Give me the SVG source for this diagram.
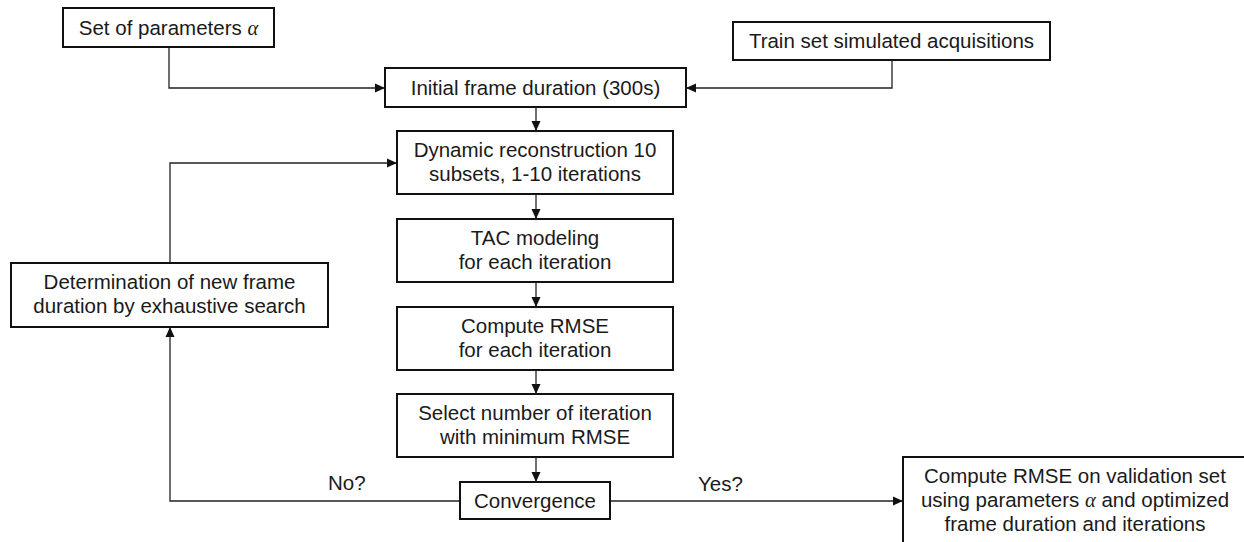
<svg xmlns="http://www.w3.org/2000/svg" width="1244" height="542" viewBox="0 0 1244 542">
<style>
.box{fill:#fff;stroke:#111;stroke-width:2}
.t{font-family:"Liberation Sans",Arial,sans-serif;font-size:20.5px;fill:#1a1a1a;text-anchor:middle}
.lbl{font-family:"Liberation Sans",Arial,sans-serif;font-size:20.5px;fill:#1a1a1a}
.a{font-family:"Liberation Serif","DejaVu Serif",serif;font-style:italic}
.c{fill:none;stroke:#222;stroke-width:1.3}
</style>
<defs>
<marker id="ah" viewBox="0 0 10 10" refX="10" refY="5" markerWidth="10" markerHeight="10" markerUnits="userSpaceOnUse" orient="auto">
<path d="M0,0.5 L10,5 L0,9.5 Z" fill="#111"/>
</marker>
</defs>
<g id="connectors">
<path class="c" d="M169,47 V88 H385" marker-end="url(#ah)"/>
<path class="c" d="M892,60 V88 H686" marker-end="url(#ah)"/>
<path class="c" d="M536,107 V131" marker-end="url(#ah)"/>
<path class="c" d="M536,194 V219" marker-end="url(#ah)"/>
<path class="c" d="M536,282 V307" marker-end="url(#ah)"/>
<path class="c" d="M536,370 V394" marker-end="url(#ah)"/>
<path class="c" d="M536,457 V482" marker-end="url(#ah)"/>
<path class="c" d="M460,501 H170 V327" marker-end="url(#ah)"/>
<path class="c" d="M170,263 V163 H397" marker-end="url(#ah)"/>
<path class="c" d="M610,501 H903" marker-end="url(#ah)"/>
<text class="lbl" x="328" y="490">No?</text>
<text class="lbl" x="698" y="491">Yes?</text>
</g>
<g id="params">
<rect class="box" x="63" y="8" width="211" height="39"/>
<text class="t" x="168.5" y="35">Set of parameters <tspan class="a">α</tspan></text>
</g>
<g id="trainset">
<rect class="box" x="733" y="22" width="317" height="38"/>
<text class="t" x="891.5" y="48">Train set simulated acquisitions</text>
</g>
<g id="initial">
<rect class="box" x="385" y="68" width="301" height="39"/>
<text class="t" x="535.5" y="95">Initial frame duration (300s)</text>
</g>
<g id="dynamic">
<rect class="box" x="397" y="131" width="276" height="63"/>
<text class="t" x="535" y="157">Dynamic reconstruction 10</text>
<text class="t" x="535" y="181">subsets, 1-10 iterations</text>
</g>
<g id="tac">
<rect class="box" x="397" y="219" width="276" height="63"/>
<text class="t" x="535" y="245">TAC modeling</text>
<text class="t" x="535" y="269">for each iteration</text>
</g>
<g id="rmse">
<rect class="box" x="397" y="307" width="276" height="63"/>
<text class="t" x="535" y="333">Compute RMSE</text>
<text class="t" x="535" y="357">for each iteration</text>
</g>
<g id="select">
<rect class="box" x="397" y="394" width="276" height="63"/>
<text class="t" x="535" y="420">Select number of iteration</text>
<text class="t" x="535" y="444">with minimum RMSE</text>
</g>
<g id="convergence">
<rect class="box" x="460" y="482" width="150" height="37"/>
<text class="t" x="535" y="508">Convergence</text>
</g>
<g id="determination">
<rect class="box" x="11" y="263" width="317" height="64"/>
<text class="t" x="169.5" y="289">Determination of new frame</text>
<text class="t" x="169.5" y="313">duration by exhaustive search</text>
</g>
<g id="validation">
<rect class="box" x="903" y="457" width="360" height="110"/>
<text class="t" x="1075" y="483">Compute RMSE on validation set</text>
<text class="t" x="1075" y="507">using parameters <tspan class="a">α</tspan> and optimized</text>
<text class="t" x="1075" y="531">frame duration and iterations</text>
</g>
</svg>
